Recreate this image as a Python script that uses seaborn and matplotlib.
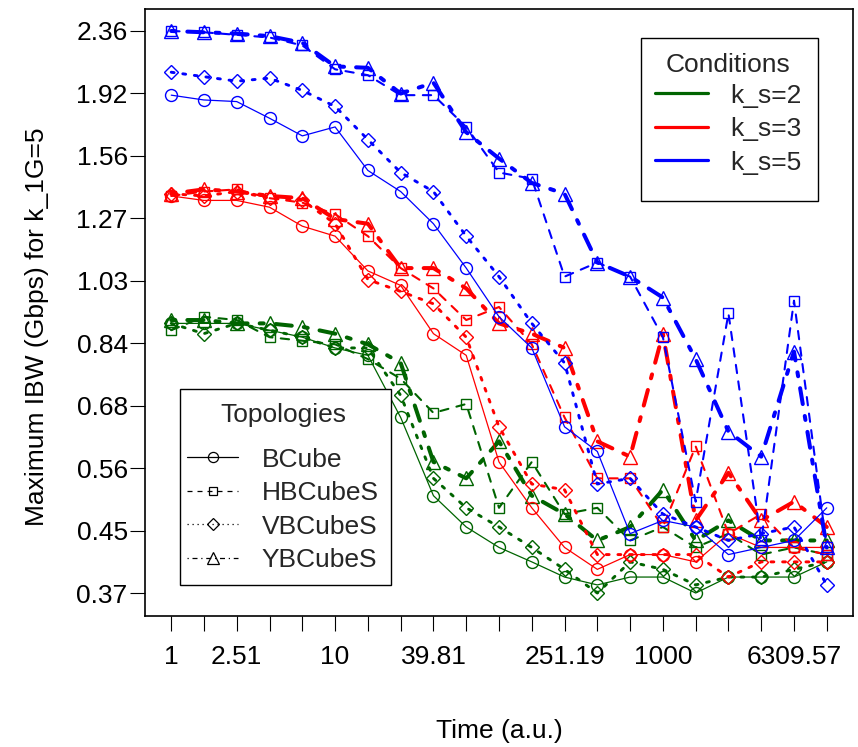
import numpy as np
import pandas as pd
import matplotlib
matplotlib.use("Agg")
import matplotlib.pyplot as plt
import seaborn as sns
from matplotlib.lines import Line2D
from matplotlib.patches import Rectangle
from matplotlib.ticker import NullLocator

sns.set_theme(style="white")
plt.rcParams['font.family'] = ['Liberation Sans', 'DejaVu Sans']

time = [1, 1.58, 2.51, 3.98, 6.31, 10, 15.85, 25.12, 39.81, 63.1, 100, 158.49,
        251.19, 398.11, 630.96, 1000, 1584.89, 2511.89, 3981.07, 6309.57, 10000]
xtick_labels = ["1", "", "2.51", "", "", "10", "", "", "39.81", "", "", "",
                "251.19", "", "", "1000", "", "", "", "6309.57", ""]
ytick_labels = ["0.37", "0.45", "0.56", "0.68", "0.84", "1.03", "1.27", "1.56", "1.92", "2.36"]

conditions = ["k_s=2", "k_s=3", "k_s=5"]
topologies = ["BCube", "HBCubeS", "VBCubeS", "YBCubeS"]

# k_s=2 (green)
g_bcube = [0.90, 0.90, 0.90, 0.88, 0.86, 0.83, 0.81, 0.66, 0.51, 0.46, 0.43, 0.41, 0.39, 0.38, 0.39, 0.39, 0.37, 0.39, 0.39, 0.39, 0.41]
g_hbcubes = [0.88, 0.92, 0.91, 0.86, 0.85, 0.84, 0.80, 0.75, 0.67, 0.69, 0.49, 0.57, 0.48, 0.49, 0.44, 0.46, 0.43, 0.45, 0.42, 0.43, 0.42]
g_vbcubes = [0.90, 0.87, 0.90, 0.88, 0.86, 0.83, 0.83, 0.71, 0.54, 0.49, 0.46, 0.43, 0.40, 0.37, 0.41, 0.40, 0.38, 0.39, 0.39, 0.40, 0.41]
g_ybcubes = [0.91, 0.91, 0.90, 0.90, 0.89, 0.87, 0.84, 0.79, 0.57, 0.54, 0.61, 0.51, 0.48, 0.44, 0.46, 0.52, 0.44, 0.47, 0.44, 0.44, 0.44]
# k_s=3 (red)
r_bcube = [1.37, 1.35, 1.35, 1.32, 1.24, 1.20, 1.07, 1.02, 0.87, 0.81, 0.57, 0.49, 0.43, 0.40, 0.42, 0.42, 0.41, 0.45, 0.43, 0.43, 0.43]
r_hbcubes = [1.37, 1.39, 1.40, 1.36, 1.34, 1.29, 1.20, 1.08, 1.01, 0.91, 0.95, 0.84, 0.66, 0.54, 0.54, 0.46, 0.60, 0.45, 0.48, 0.43, 0.42]
r_vbcubes = [1.38, 1.37, 1.39, 1.36, 1.35, 1.25, 1.04, 1.00, 0.96, 0.86, 0.64, 0.53, 0.52, 0.42, 0.42, 0.42, 0.42, 0.39, 0.41, 0.41, 0.41]
r_ybcubes = [1.38, 1.40, 1.39, 1.37, 1.36, 1.27, 1.25, 1.08, 1.08, 1.01, 0.90, 0.87, 0.83, 0.61, 0.58, 0.87, 0.47, 0.55, 0.47, 0.50, 0.46]
# k_s=5 (blue)
b_bcube = [1.91, 1.88, 1.87, 1.77, 1.67, 1.72, 1.49, 1.39, 1.25, 1.08, 0.92, 0.83, 0.64, 0.59, 0.45, 0.47, 0.46, 0.42, 0.43, 0.44, 0.49]
b_hbcubes = [2.36, 2.35, 2.33, 2.31, 2.25, 2.08, 2.04, 1.91, 1.91, 1.72, 1.48, 1.45, 1.05, 1.10, 1.05, 0.86, 0.50, 0.93, 0.44, 0.97, 0.43]
b_vbcubes = [2.06, 2.03, 2.00, 2.02, 1.94, 1.84, 1.65, 1.48, 1.39, 1.20, 1.05, 0.90, 0.79, 0.53, 0.54, 0.48, 0.46, 0.44, 0.45, 0.46, 0.38]
b_ybcubes = [2.36, 2.35, 2.34, 2.32, 2.27, 2.10, 2.09, 1.92, 1.99, 1.69, 1.55, 1.43, 1.38, 1.10, 1.05, 0.98, 0.80, 0.63, 0.58, 0.82, 0.43]

series = {
    ("k_s=2", "BCube"): g_bcube, ("k_s=2", "HBCubeS"): g_hbcubes,
    ("k_s=2", "VBCubeS"): g_vbcubes, ("k_s=2", "YBCubeS"): g_ybcubes,
    ("k_s=3", "BCube"): r_bcube, ("k_s=3", "HBCubeS"): r_hbcubes,
    ("k_s=3", "VBCubeS"): r_vbcubes, ("k_s=3", "YBCubeS"): r_ybcubes,
    ("k_s=5", "BCube"): b_bcube, ("k_s=5", "HBCubeS"): b_hbcubes,
    ("k_s=5", "VBCubeS"): b_vbcubes, ("k_s=5", "YBCubeS"): b_ybcubes,
}
rows = []
for (cond, topo), vals in series.items():
    for t, v in zip(time, vals):
        rows.append({"Time": t, "IBW": v, "Condition": cond, "Topology": topo})
df = pd.DataFrame(rows)

FS = 19
W, H = 858, 747
AX_L, AX_R, AX_T, AX_B = 145, 853, 8.5, 615.5
fig = plt.figure(figsize=(W / 100, H / 100), dpi=100)
ax = fig.add_axes([AX_L / W, 1 - AX_B / H, (AX_R - AX_L) / W, (AX_B - AX_T) / H])


def ax_xy(xp, yp):
    return ((xp - AX_L) / (AX_R - AX_L), (AX_B - yp) / (AX_B - AX_T))


palette = {"k_s=2": "#006400", "k_s=3": "#FF0000", "k_s=5": "#0000FF"}
markers = {"BCube": "o", "HBCubeS": "s", "VBCubeS": "D", "YBCubeS": "^"}
dashes = {"BCube": "", "HBCubeS": (4, 4), "VBCubeS": (1, 3), "YBCubeS": (1, 3, 4, 3)}
sizes = {"BCube": 0.9, "HBCubeS": 1.5, "VBCubeS": 2.1, "YBCubeS": 2.9}

sns.lineplot(data=df, x="Time", y="IBW", hue="Condition", style="Topology",
             size="Topology", palette=palette, markers=markers, dashes=dashes,
             sizes=sizes, legend=False, ax=ax, estimator=None, sort=False)

msize = {"o": 8.6, "s": 7.6, "D": 7.4, "^": 10.5}
for line in ax.get_lines():
    m = line.get_marker()
    line.set_markerfacecolor("none")
    line.set_markeredgecolor(line.get_color())
    line.set_markeredgewidth(1.0)
    line.set_markersize(msize.get(m, 8))
    line.set_dash_capstyle("round")

ax.set_xscale("log")
ax.set_yscale("log")
lx0, lx1 = 0.0, 4.0
px = 0.04 * (lx1 - lx0)
ax.set_xlim(10 ** (lx0 - px), 10 ** (lx1 + px))
ly0, ly1 = np.log(0.37), np.log(2.36)
py = 0.04 * (ly1 - ly0)
ax.set_ylim(np.exp(ly0 - py), np.exp(ly1 + py))

ax.set_xticks(time)
ax.set_xticklabels(xtick_labels)
ax.set_yticks(np.geomspace(0.37, 2.36, 10))
ax.set_yticklabels(ytick_labels)
ax.xaxis.set_minor_locator(NullLocator())
ax.yaxis.set_minor_locator(NullLocator())
ax.tick_params(axis="both", which="major", direction="out", length=11, width=0.8,
               color="black", labelcolor="black", labelsize=FS, bottom=True, left=True)
ax.tick_params(axis="x", pad=10)
ax.tick_params(axis="y", pad=1.5)
ax.set_xlabel("")
ax.set_ylabel("")
for sp in ax.spines.values():
    sp.set_color("black")
    sp.set_linewidth(1.2)

fig.text(37 / W, 1 - 326.5 / H, "Maximum IBW (Gbps) for k_1G=5", rotation=90,
         ha="center", va="center", fontsize=FS, color="black")
fig.text(499 / W, 1 - 731 / H, "Time (a.u.)", ha="center", va="center",
         fontsize=FS, color="black")


def frame(x0, y0, x1, y1):
    (ax0, ay1) = ax_xy(x0, y0)
    (ax1, ay0) = ax_xy(x1, y1)
    r = Rectangle((ax0, ay0), ax1 - ax0, ay1 - ay0, transform=ax.transAxes,
                  facecolor="white", edgecolor="black", linewidth=1.0, zorder=4.5)
    ax.add_patch(r)


frame(641, 38, 818, 201)
frame(180, 389, 391, 585)

cond_handles = [Line2D([], [], color=palette[c], lw=2.3) for c in conditions]
leg1 = ax.legend(cond_handles, conditions, title="Conditions", loc="upper left",
                 bbox_to_anchor=ax_xy(655, 53), frameon=False, fontsize=FS,
                 title_fontsize=FS, handlelength=1.99, handletextpad=0.85,
                 labelspacing=0.36, borderpad=0, borderaxespad=0)
leg1._legend_box.sep = leg1._legend_box.sep - 2
leg1.set_zorder(5)
ax.add_artist(leg1)

topo_handles = []
for t in topologies:
    ls = "-" if dashes[t] == "" else (0, dashes[t])
    topo_handles.append(Line2D([], [], color="black", lw=0.9, linestyle=ls,
                               marker=markers[t], markerfacecolor="none",
                               markeredgecolor="black", markeredgewidth=0.9,
                               markersize=msize[markers[t]] * 0.85))
leg2 = ax.legend(topo_handles, topologies, title="Topologies", loc="upper left",
                 bbox_to_anchor=ax_xy(187, 403), frameon=False, fontsize=FS,
                 title_fontsize=FS, handlelength=1.94, handletextpad=0.9,
                 labelspacing=0.36, borderpad=0, borderaxespad=0)
leg2._legend_box.sep = leg2._legend_box.sep + 8
leg2.set_zorder(5)

fig.savefig("out.png", dpi=100)
